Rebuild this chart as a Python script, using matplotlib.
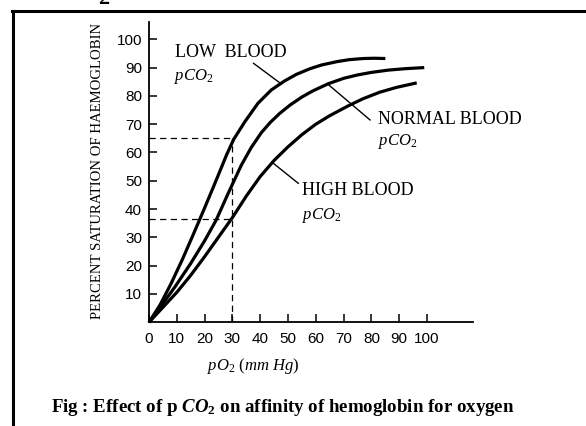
import matplotlib
matplotlib.use("Agg")
import matplotlib.pyplot as plt
from matplotlib.lines import Line2D

plt.rcParams['mathtext.fontset'] = 'custom'
plt.rcParams['mathtext.rm'] = 'Liberation Serif'
plt.rcParams['mathtext.it'] = 'Liberation Serif:italic'
plt.rcParams['mathtext.bf'] = 'Liberation Serif:bold'
plt.rcParams['mathtext.bfit'] = 'Liberation Serif:bold:italic'

# --- data ---
low_x = [0, 4, 8, 12, 16, 20, 24, 28, 30.5, 34.5, 39.2, 44, 48.8, 53, 57.9, 62, 67.6, 72, 77.1, 81, 85]
low_y = [0, 6.2, 13.8, 22.2, 31.2, 40.4, 49.8, 59.4, 64.7, 70.9, 77.4, 82.1, 85.3, 87.6, 89.6, 90.9, 92.1, 92.8, 93.2, 93.3, 93.2]

normal_x = [0, 4, 9.4, 15, 20, 24.1, 28.5, 33.2, 36.8, 40.4, 43.6, 47, 50.8, 55, 59, 64.5, 70, 75, 80, 86, 92, 99]
normal_y = [0, 5.3, 12.6, 20.8, 28.8, 36, 45.6, 55.5, 61.8, 67, 70.6, 73.8, 76.8, 79.6, 81.8, 84.3, 86.2, 87.4, 88.3, 89.1, 89.6, 90]

high_x = [0, 5, 10, 15, 20, 25, 30, 35, 40, 45, 50, 55, 60, 65, 71.7, 77, 83, 89, 96.3]
high_y = [0, 5.3, 10.6, 16.6, 23.2, 30.1, 37, 44.6, 51.5, 57.2, 62, 66.3, 70, 73, 76.5, 79, 81.3, 83, 84.6]

x_ticks = [0, 10, 20, 30, 40, 50, 60, 70, 80, 90, 100]
y_ticks = [10, 20, 30, 40, 50, 60, 70, 80, 90, 100]

ref_po2 = 30
ref_sat_low = 65
ref_sat_high = 36.4

W, H = 586, 426
fig = plt.figure(figsize=(W / 100, H / 100), dpi=100)

ax = fig.add_axes([149 / W, (H - 322.3) / H, 323.9 / W, 300 / H])
ax.set_xlim(0, 116.5)
ax.set_ylim(0, 106)

for s in ['top', 'right']:
    ax.spines[s].set_visible(False)
for s in ['left', 'bottom']:
    ax.spines[s].set_linewidth(1.3)

lw = 2.3
for xs, ys in [(low_x, low_y), (normal_x, normal_y), (high_x, high_y)]:
    ax.plot(xs, ys, color='black', lw=lw, solid_capstyle='butt',
            solid_joinstyle='round', clip_on=False)

dash = dict(color='black', lw=0.9, dashes=(5, 3.5))
ax.plot([0, ref_po2], [ref_sat_low, ref_sat_low], **dash)
ax.plot([ref_po2, ref_po2], [0, ref_sat_low], **dash)
ax.plot([0, ref_po2], [ref_sat_high, ref_sat_high], **dash)

ax.set_xticks(x_ticks)
ax.set_yticks(y_ticks)
ax.tick_params(direction='in', length=6, width=1.1, labelsize=11, colors='black')
ax.tick_params(axis='x', pad=7)
ax.tick_params(axis='y', pad=5)
for lab in ax.get_xticklabels() + ax.get_yticklabels():
    lab.set_fontfamily('Liberation Sans')

serif = 'Liberation Serif'
fs = 13
ax.text(9.4, 95.2, 'LOW  BLOOD', family=serif, fontsize=fs, va='center', ha='left')
ax.text(9.0, 86.8, r'$pCO_2$', fontsize=12, va='center', ha='left')
ax.plot([37.6, 47.2], [91.5, 84.5], color='black', lw=1.0)

ax.text(82.5, 71.5, 'NORMAL BLOOD', family=serif, fontsize=fs, va='center', ha='left')
ax.text(82.5, 63.8, r'$pCO_2$', fontsize=12, va='center', ha='left')
ax.plot([64.5, 79.5], [84.0, 71.5], color='black', lw=1.0)

ax.text(55.0, 46.7, 'HIGH BLOOD', family=serif, fontsize=fs, va='center', ha='left')
ax.text(55.0, 37.9, r'$pCO_2$', fontsize=12, va='center', ha='left')
ax.plot([44.2, 53.7], [56.6, 49.1], color='black', lw=1.0)

fig.text(98 / W, 1 - 171 / H, 'PERCENT SATURATION OF HAEMOGLOBIN', family=serif,
         fontsize=10.6, rotation=90, ha='center', va='center')
fig.text(253 / W, 1 - 366 / H, r'$pO_2\ (mm\ Hg)$', fontsize=12, ha='center', va='center')
fig.text(283 / W, 1 - 408 / H,
         r'Fig : Effect of p $\mathbfit{CO}_\mathbf{2}$ on affinity of hemoglobin for oxygen',
         family=serif, fontweight='bold', fontsize=13.6, ha='center', va='center')

# frame (left and top edges visible)
fig.add_artist(Line2D([13 / W, 13 / W], [0, 1 - 11 / H], color='black', lw=2.2,
                      transform=fig.transFigure))
fig.add_artist(Line2D([12.2 / W, 1], [1 - 11 / H, 1 - 11 / H], color='black', lw=2.2,
                      transform=fig.transFigure))
# cut-off subscript from the line above the frame
fig.text(104 / W, 1 - 4 / H, '2', family=serif, fontweight='bold', fontsize=16,
         ha='center', va='baseline')

fig.savefig('out.png', dpi=100)
